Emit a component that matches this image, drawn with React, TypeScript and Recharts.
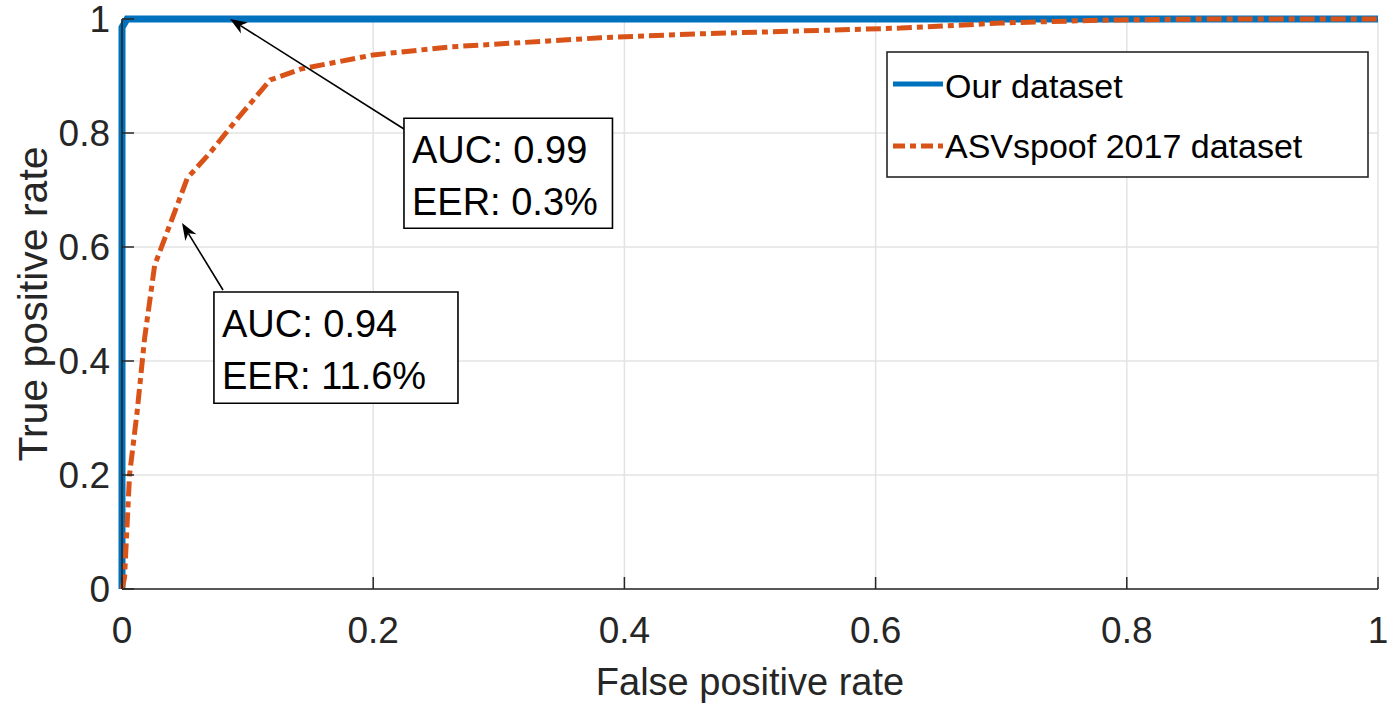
import React from 'react';
import {
  LineChart, Line, XAxis, YAxis, CartesianGrid, ReferenceArea, ReferenceLine, Legend,
} from 'recharts';

// ---- data ----
const FPR_OURS = [0, 0, 0.004, 1];
const TPR_OURS = [0, 0.985, 1, 1];

const FPR_ASV = [0, 0.002, 0.006, 0.012, 0.018, 0.026, 0.04, 0.052, 0.07, 0.09, 0.118, 0.142, 0.2, 0.261, 0.381, 0.46, 0.54, 0.62, 0.7, 0.78, 0.86, 1];
const TPR_ASV = [0, 0.02, 0.2, 0.31, 0.44, 0.568, 0.65, 0.721, 0.765, 0.82, 0.893, 0.912, 0.937, 0.951, 0.967, 0.974, 0.979, 0.984, 0.993, 0.998, 1, 1];

const X_TICKS = [0, 0.2, 0.4, 0.6, 0.8, 1];
const Y_TICKS = [0, 0.2, 0.4, 0.6, 0.8, 1];

const SERIES_NAMES = ['Our dataset', 'ASVspoof 2017 dataset'];
const SERIES_COLORS = ['#0072BD', '#D95319'];
const SERIES_DASH = [undefined, '15 5 6 5'];

const ANNO_OURS_TEXT = ['AUC: 0.99', 'EER: 0.3%'];
const ANNO_ASV_TEXT = ['AUC: 0.94', 'EER: 11.6%'];

const ANNO_OURS_BOX = { x1: 0.2245, x2: 0.3905, y1: 0.633, y2: 0.826 };
const ANNO_ASV_BOX = { x1: 0.0732, x2: 0.2675, y1: 0.326, y2: 0.521 };
const ARROW_OURS = [{ x: 0.2245, y: 0.807 }, { x: 0.086, y: 1.0 }];
const ARROW_ASV = [{ x: 0.0804, y: 0.5246 }, { x: 0.0478, y: 0.642 }];

const oursData = FPR_OURS.map((x, i) => ({ x, y: TPR_OURS[i] }));
const asvData = FPR_ASV.map((x, i) => ({ x, y: TPR_ASV[i] }));

const FONT = '"Liberation Sans", Arial, Helvetica, sans-serif';
const INK = '#262626';

const XTick = (props: any) => {
  const { x, y, payload } = props;
  return (
    <g>
      <line x1={x} y1={y} x2={x} y2={y - 12} stroke={INK} strokeWidth={1.5} />
      <text x={x} y={y + 54} textAnchor="middle" fontSize={37} fontFamily={FONT} fill={INK}>
        {String(payload.value)}
      </text>
    </g>
  );
};

const YTick = (props: any) => {
  const { x, y, payload } = props;
  return (
    <g>
      <line x1={x} y1={y} x2={x + 12} y2={y} stroke={INK} strokeWidth={1.5} />
      <text x={x - 12} y={y} textAnchor="end" dominantBaseline="central" fontSize={37} fontFamily={FONT} fill={INK}>
        {String(payload.value)}
      </text>
    </g>
  );
};

const TopTick = (props: any) => {
  const { x, y } = props;
  return <line x1={x} y1={y} x2={x} y2={y + 12} stroke={INK} strokeWidth={1.5} />;
};

const RightTick = (props: any) => {
  const { x, y } = props;
  return <line x1={x} y1={y} x2={x - 12} y2={y} stroke={INK} strokeWidth={1.5} />;
};

const Arrow = (props: any) => {
  const { x1, y1, x2, y2 } = props;
  const dx = x2 - x1;
  const dy = y2 - y1;
  const len = Math.sqrt(dx * dx + dy * dy) || 1;
  const ux = dx / len;
  const uy = dy / len;
  const px = -uy;
  const py = ux;
  const L = 17;
  const W = 6.5;
  const N = 12;
  const bx = x2 - ux * L;
  const by = y2 - uy * L;
  const nx = x2 - ux * N;
  const ny = y2 - uy * N;
  return (
    <g>
      <line x1={x1} y1={y1} x2={nx} y2={ny} stroke="#000" strokeWidth={1.6} />
      <polygon
        points={`${x2},${y2} ${bx + px * W},${by + py * W} ${nx},${ny} ${bx - px * W},${by - py * W}`}
        fill="#000"
      />
    </g>
  );
};

const annoLabel = (lines: string[]) => (props: any) => {
  const vb = props.viewBox || {};
  return (
    <g>
      {lines.map((t, i) => (
        <text key={i} x={vb.x + 8} y={vb.y + 45 + i * 52} fontSize={38} fontFamily={FONT} fill="#000">
          {t}
        </text>
      ))}
    </g>
  );
};

const LegendBox = () => (
  <svg width={484} height={128} style={{ display: 'block' }}>
    <rect x={1} y={1} width={481} height={125} fill="#fff" stroke={INK} strokeWidth={1.6} />
    {SERIES_NAMES.map((name, i) => (
      <g key={name}>
        <line
          x1={7}
          x2={57}
          y1={33 + i * 62}
          y2={33 + i * 62}
          stroke={SERIES_COLORS[i]}
          strokeWidth={5}
          strokeDasharray={i === 1 ? '12 5 6 5' : undefined}
        />
        <text x={59} y={47 + i * 60} fontSize={34} fontFamily={FONT} fill="#000">
          {name}
        </text>
      </g>
    ))}
  </svg>
);

export default function App() {
  return (
    <div style={{ position: 'absolute', left: 0, top: 0, width: 1389, height: 705, background: '#fff' }}>
      <LineChart width={1389} height={705} margin={{ top: 19, right: 11, left: 0, bottom: 0 }}>
        <CartesianGrid stroke="#e3e3e3" strokeWidth={1.5} horizontal vertical />
        <XAxis
          dataKey="x"
          type="number"
          domain={[0, 1]}
          ticks={X_TICKS}
          height={116}
          tickSize={0}
          tickMargin={0}
          tickLine={false}
          axisLine={{ stroke: INK, strokeWidth: 1.6 }}
          tick={<XTick />}
          interval={0}
          label={(p: any) => {
            const vb = p.viewBox || {};
            return (
              <text x={vb.x + vb.width / 2} y={vb.y + 106} textAnchor="middle" fontSize={38} fontFamily={FONT} fill={INK}>
                False positive rate
              </text>
            );
          }}
        />
        <XAxis
          xAxisId="top"
          orientation="top"
          dataKey="x"
          type="number"
          domain={[0, 1]}
          ticks={X_TICKS}
          height={0}
          tickSize={0}
          tickMargin={0}
          tickLine={false}
          axisLine={{ stroke: INK, strokeWidth: 1.6 }}
          tick={<TopTick />}
          interval={0}
        />
        <YAxis
          type="number"
          domain={[0, 1]}
          ticks={Y_TICKS}
          width={122}
          tickSize={0}
          tickMargin={0}
          tickLine={false}
          axisLine={{ stroke: INK, strokeWidth: 1.6 }}
          tick={<YTick />}
          interval={0}
          label={(p: any) => {
            const vb = p.viewBox || {};
            const cx = vb.x + 47;
            const cy = vb.y + vb.height / 2;
            return (
              <text x={cx} y={cy} transform={`rotate(-90, ${cx}, ${cy})`} textAnchor="middle" fontSize={41} fontFamily={FONT} fill={INK}>
                True positive rate
              </text>
            );
          }}
        />
        <YAxis
          yAxisId="right"
          orientation="right"
          type="number"
          domain={[0, 1]}
          ticks={Y_TICKS}
          width={0}
          tickSize={0}
          tickMargin={0}
          tickLine={false}
          axisLine={{ stroke: INK, strokeWidth: 1.6 }}
          tick={<RightTick />}
          interval={0}
        />
        <ReferenceArea
          x1={ANNO_OURS_BOX.x1}
          x2={ANNO_OURS_BOX.x2}
          y1={ANNO_OURS_BOX.y1}
          y2={ANNO_OURS_BOX.y2}
          fill="#fff"
          fillOpacity={1}
          stroke="#000"
          strokeWidth={1.6}
          ifOverflow="visible"
          label={annoLabel(ANNO_OURS_TEXT)}
        />
        <ReferenceArea
          x1={ANNO_ASV_BOX.x1}
          x2={ANNO_ASV_BOX.x2}
          y1={ANNO_ASV_BOX.y1}
          y2={ANNO_ASV_BOX.y2}
          fill="#fff"
          fillOpacity={1}
          stroke="#000"
          strokeWidth={1.6}
          ifOverflow="visible"
          label={annoLabel(ANNO_ASV_TEXT)}
        />
        <Line
          data={oursData}
          dataKey="y"
          name={SERIES_NAMES[0]}
          type="linear"
          stroke={SERIES_COLORS[0]}
          strokeWidth={7}
          dot={false}
          activeDot={false}
          isAnimationActive={false}
        />
        <Line
          data={asvData}
          dataKey="y"
          name={SERIES_NAMES[1]}
          type="linear"
          stroke={SERIES_COLORS[1]}
          strokeWidth={5}
          strokeDasharray={SERIES_DASH[1]}
          dot={false}
          activeDot={false}
          isAnimationActive={false}
        />
        <ReferenceLine segment={ARROW_OURS} ifOverflow="visible" shape={<Arrow />} />
        <ReferenceLine segment={ARROW_ASV} ifOverflow="visible" shape={<Arrow />} />
        <Legend
          layout="horizontal"
          verticalAlign="middle"
          align="center"
          wrapperStyle={{ left: 886, top: 51, width: 484, height: 128 }}
          content={() => <LegendBox />}
        />
      </LineChart>
    </div>
  );
}
